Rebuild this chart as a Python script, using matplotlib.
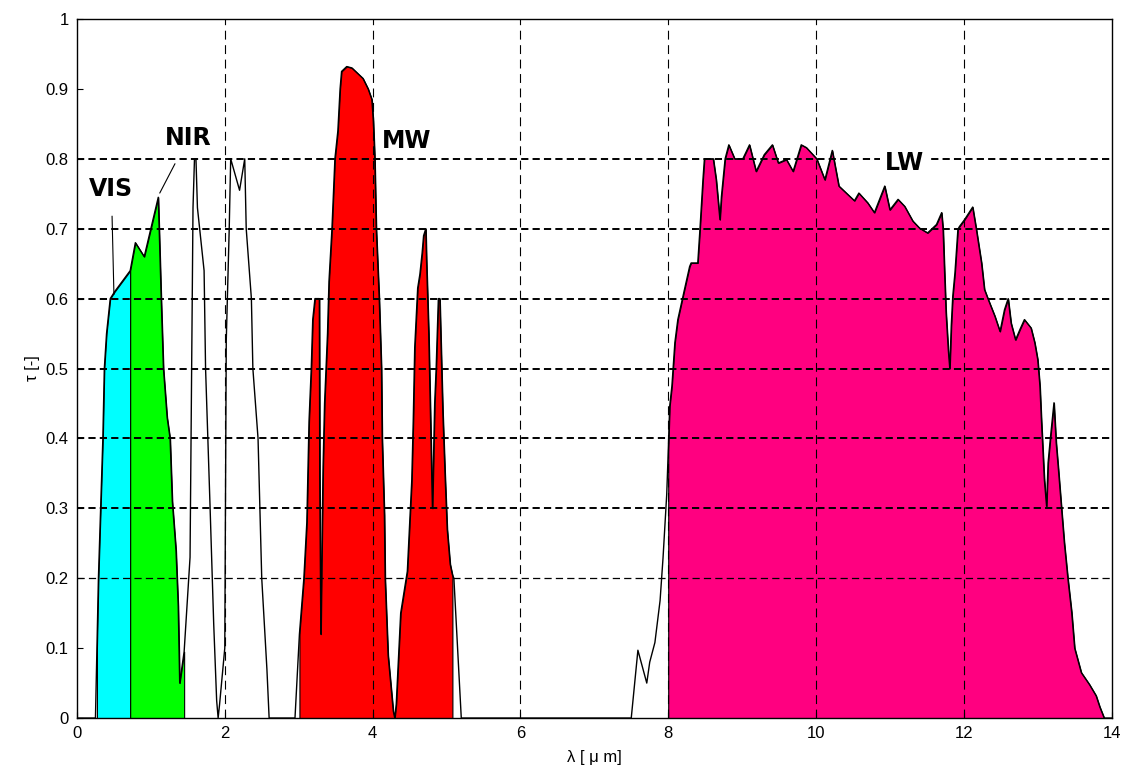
import numpy as np
import matplotlib.pyplot as plt

# transmission curve
lam = [0.0, 0.25, 0.27, 0.29, 0.32, 0.35, 0.37, 0.40, 0.45, 0.51, 0.72,
       0.79, 0.91, 1.10, 1.14, 1.17, 1.22, 1.26, 1.29, 1.34, 1.37, 1.39, 1.45,
       1.53, 1.57, 1.59, 1.61, 1.63, 1.72, 1.74, 1.80, 1.85, 1.89, 1.91, 1.93,
       2.00, 2.02, 2.06, 2.08, 2.20, 2.27, 2.29, 2.36, 2.38, 2.45, 2.50, 2.57,
       2.60, 2.95, 3.01, 3.07, 3.11, 3.14, 3.17, 3.19, 3.22, 3.28, 3.285, 3.30,
       3.31, 3.33, 3.35, 3.39, 3.41, 3.45, 3.49, 3.53, 3.56, 3.58, 3.65, 3.72,
       3.80, 3.87, 3.94, 3.99, 4.01, 4.03, 4.05, 4.09, 4.12, 4.13, 4.16, 4.17,
       4.21, 4.28, 4.30, 4.32, 4.38, 4.47, 4.53, 4.55, 4.57, 4.61, 4.64, 4.67,
       4.69, 4.72, 4.73, 4.76, 4.78, 4.80, 4.81, 4.84, 4.86, 4.88, 4.89, 4.91,
       4.93, 4.95, 4.98, 5.01, 5.05, 5.08, 5.10, 5.20, 7.50, 7.59, 7.71, 7.75,
       7.82, 7.89, 7.93, 7.98, 8.00, 8.02, 8.05, 8.09, 8.13, 8.18, 8.22, 8.29,
       8.31, 8.40, 8.43, 8.47, 8.49, 8.61, 8.65, 8.70, 8.72, 8.77, 8.82, 8.90,
       9.01, 9.10, 9.19, 9.30, 9.41, 9.49, 9.60, 9.69, 9.80, 9.87, 10.01, 10.12,
       10.22, 10.31, 10.41, 10.52, 10.58, 10.70, 10.79, 10.86, 10.93, 11.00,
       11.11, 11.20, 11.31, 11.40, 11.51, 11.63, 11.70, 11.72, 11.74, 11.76,
       11.79, 11.81, 11.83, 11.85, 11.88, 11.92, 11.94, 12.01, 12.12, 12.17,
       12.24, 12.28, 12.33, 12.42, 12.49, 12.55, 12.60, 12.64, 12.70, 12.76,
       12.82, 12.91, 12.96, 13.00, 13.03, 13.05, 13.07, 13.09, 13.12, 13.14,
       13.17, 13.22, 13.25, 13.28, 13.32, 13.36, 13.41, 13.46, 13.50, 13.59,
       13.70, 13.79, 13.84, 13.90, 14.0]
tau = [0, 0, 0.10, 0.20, 0.30, 0.40, 0.50, 0.55, 0.60, 0.61, 0.64,
       0.68, 0.66, 0.745, 0.60, 0.50, 0.43, 0.40, 0.31, 0.24, 0.16, 0.05, 0.095,
       0.23, 0.73, 0.80, 0.80, 0.73, 0.64, 0.50, 0.305, 0.135, 0.025, 0, 0.02,
       0.10, 0.54, 0.70, 0.80, 0.755, 0.80, 0.70, 0.60, 0.50, 0.40, 0.20, 0.07,
       0, 0, 0.12, 0.20, 0.28, 0.425, 0.50, 0.57, 0.60, 0.60, 0.35, 0.12,
       0.21, 0.36, 0.45, 0.55, 0.625, 0.70, 0.80, 0.84, 0.90, 0.925, 0.932, 0.93,
       0.922, 0.915, 0.90, 0.885, 0.854, 0.80, 0.70, 0.60, 0.50, 0.40, 0.29, 0.20,
       0.09, 0.01, 0, 0.02, 0.15, 0.21, 0.34, 0.425, 0.53, 0.615, 0.635, 0.665,
       0.69, 0.70, 0.655, 0.55, 0.45, 0.35, 0.30, 0.45, 0.50, 0.57, 0.60, 0.60,
       0.52, 0.44, 0.35, 0.27, 0.22, 0.205, 0.20, 0, 0, 0.097, 0.05, 0.08,
       0.108, 0.168, 0.229, 0.32, 0.38, 0.446, 0.475, 0.537, 0.57, 0.594, 0.613, 0.646,
       0.651, 0.651, 0.70, 0.77, 0.80, 0.80, 0.77, 0.713, 0.746, 0.80, 0.82, 0.80,
       0.80, 0.82, 0.782, 0.806, 0.82, 0.794, 0.799, 0.782, 0.82, 0.816, 0.80, 0.77,
       0.812, 0.761, 0.751, 0.74, 0.751, 0.737, 0.723, 0.742, 0.761, 0.727,
       0.742, 0.732, 0.711, 0.701, 0.694, 0.706, 0.723, 0.699, 0.637, 0.58,
       0.527, 0.50, 0.561, 0.603, 0.637, 0.699, 0.703, 0.713, 0.731, 0.699,
       0.651, 0.613, 0.599, 0.575, 0.553, 0.584, 0.60, 0.565, 0.541, 0.556,
       0.570, 0.558, 0.537, 0.513, 0.475, 0.427, 0.384, 0.341, 0.303, 0.365,
       0.399, 0.451, 0.394, 0.356, 0.303, 0.251, 0.198, 0.151, 0.10, 0.065,
       0.048, 0.032, 0.016, 0, 0]

band_names = ['VIS', 'NIR', 'MW', 'LW']
band_lo = [0.27, 0.72, 3.01, 8.00]
band_hi = [0.72, 1.45, 5.08, 13.90]
band_colors = ['#00ffff', '#00ff00', '#ff0000', '#ff0080']

xticks = [0, 2, 4, 6, 8, 10, 12, 14]
yticks = [0, 0.1, 0.2, 0.3, 0.4, 0.5, 0.6, 0.7, 0.8, 0.9, 1]
ytick_labels = ['0', '0.1', '0.2', '0.3', '0.4', '0.5', '0.6', '0.7', '0.8', '0.9', '1']

lam = np.array(lam)
tau = np.array(tau)

plt.rcParams['font.family'] = ['Liberation Sans', 'DejaVu Sans']

fig = plt.figure(figsize=(11.32, 7.76), dpi=100)
ax = fig.add_axes([0.068, 0.0747, 0.914, 0.9008])

for lo, hi, c in zip(band_lo, band_hi, band_colors):
    m = (lam >= lo) & (lam <= hi)
    ax.fill_between(lam[m], 0, tau[m], facecolor=c, edgecolor='black',
                    linewidth=0.8, zorder=1)

# grid: vertical thin dashes, horizontal bolder dashes (0.2..0.8 only visible)
for x in xticks[1:-1]:
    ax.axvline(x, color='black', linewidth=0.8, linestyle=(0, (8, 5)), zorder=2)
for y in yticks[2:-2]:
    lw = 0.9 if y == 0.2 else 1.4
    ax.axhline(y, color='black', linewidth=lw, linestyle=(0, (5.2 / lw, 3.0 / lw)),
               zorder=2)

ax.plot(lam, tau, color='black', linewidth=1.0, zorder=3)

ax.set_xlim(0, 14)
ax.set_ylim(0, 1)
ax.set_xticks(xticks)
ax.set_yticks(yticks)
ax.set_yticklabels(ytick_labels)
ax.tick_params(direction='in', length=4, labelsize=12, pad=6)
for s in ax.spines.values():
    s.set_linewidth(1.0)

ax.set_xlabel('λ [ μ m]', fontsize=12, labelpad=6)
ax.set_ylabel('τ [-]', fontsize=12, labelpad=4)

bold = dict(fontsize=17, fontweight='bold', family='DejaVu Sans',
            ha='center', va='center', zorder=4)
ax.annotate('VIS', xy=(0.50, 0.606), xytext=(0.466, 0.757), **bold,
            arrowprops=dict(arrowstyle='-', color='black', lw=0.8,
                            shrinkA=9, shrinkB=0))
ax.annotate('NIR', xy=(1.12, 0.751), xytext=(1.508, 0.830), **bold,
            arrowprops=dict(arrowstyle='-', color='black', lw=0.8,
                            shrinkA=9, shrinkB=0))
ax.text(4.464, 0.825, 'MW', **bold)
ax.text(11.19, 0.794, 'LW', bbox=dict(facecolor='white', edgecolor='none', pad=3),
        **bold)

fig.savefig('out.png', dpi=100)
